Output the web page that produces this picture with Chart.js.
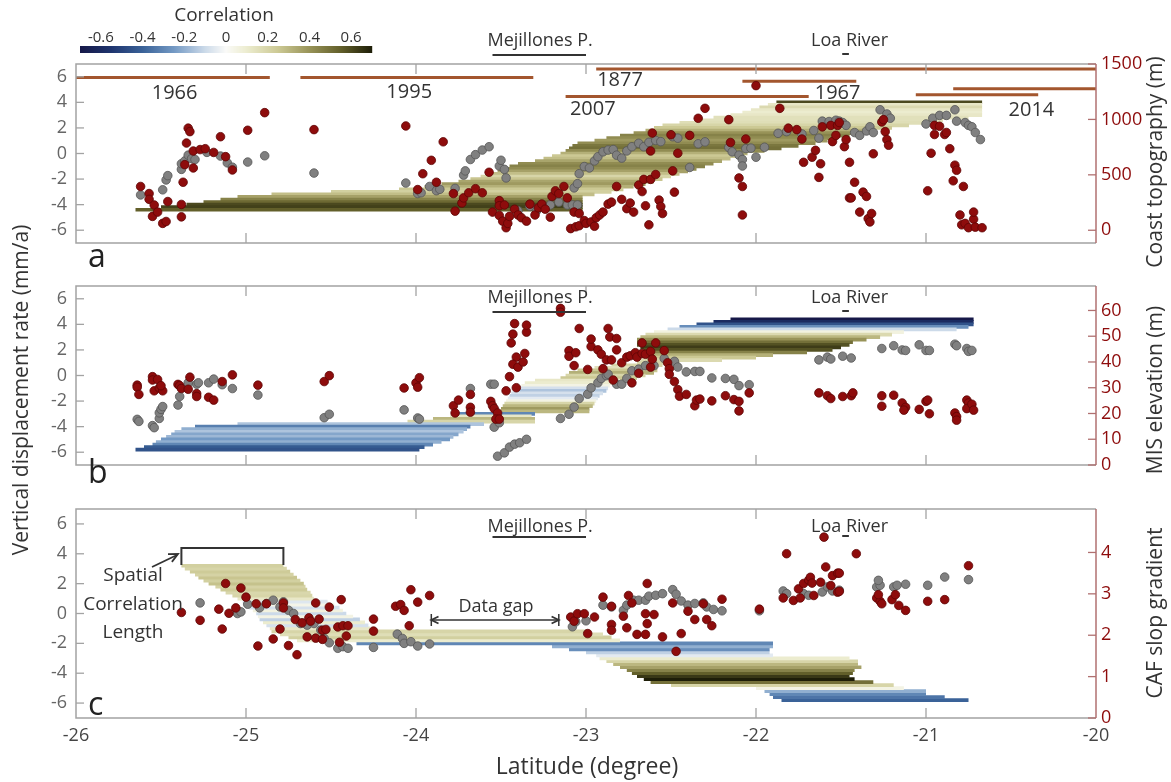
<!DOCTYPE html>
<html>
<head>
<meta charset="utf-8">
<script src="https://cdn.jsdelivr.net/npm/chart.js@4.4.1/dist/chart.umd.min.js"></script>
<style>
  body { margin: 0; background: #fff; }
  #wrap { position: relative; width: 1171px; height: 782px; }
  #wrap canvas { position: absolute; left: 0; top: 0; }
</style>
</head>
<body>
<div id="wrap">
  <canvas id="chartA" width="1171" height="782"></canvas>
  <canvas id="chartB" width="1171" height="782"></canvas>
  <canvas id="chartC" width="1171" height="782"></canvas>
</div>
<script>
// ---------- ticks ----------
const latTicks = [-26, -25, -24, -23, -22, -21, -20];
const leftTicks = [-6, -4, -2, 0, 2, 4, 6];
const topoTicks = [0, 500, 1000, 1500];
const misTicks = [0, 10, 20, 30, 40, 50, 60];
const cafTicks = [0, 1, 2, 3, 4];
const corrTicks = [-0.6, -0.4, -0.2, 0, 0.2, 0.4, 0.6];

// ---------- panel a : [lat, displacement] and [lat, coast topography m] ----------
const grayA = [[-25.62,-3.24],[-25.49,-2.84],[-25.47,-2.07],[-25.46,-1.73],[-25.38,-1.24],[-25.38,-0.8],[-25.36,-0.58],[-25.34,-0.13],[-25.32,-0.4],[-25.3,-0.47],[-25.23,0.09],[-25.15,-0.2],[-25.11,-0.73],[-25.08,-1.07],[-24.99,-0.67],[-24.89,-0.18],[-24.6,-1.53],[-24.06,-2.31],[-23.99,-3.13],[-23.97,-3.07],[-23.92,-2.58],[-23.88,-2.91],[-23.86,-2.8],[-23.77,-2.73],
  [-23.72,-1.69],[-23.71,-1.36],[-23.68,-0.47],[-23.65,-0.09],[-23.61,0.27],[-23.57,0.53],[-23.51,-0.98],[-23.5,-0.53],[-23.48,-1.24],[-23.47,-1.91],[-23.4,-4.47],[-23.33,-4.13],[-23.29,-4.47],[-23.21,-4.02],[-23.16,-3.8],[-23.11,-4.02],[-23.08,-4.02],[-23.05,-4.02],[-23.07,-2.69],[-23.05,-2.36],[-23.04,-1.58],[-23.01,-1.02],[-22.98,-1.13],[-22.95,-0.58],[-22.93,-0.25],[-22.9,0.13],[-22.87,0.27],[-22.84,0.31],[-22.82,-0.13],[-22.79,-0.36],[-22.76,0.2],[-22.73,0.53],[-22.69,0.8],[-22.66,0.53],[-22.63,0.87],[-22.59,1.02],[-22.56,0.93],[-22.49,1.31],[-22.46,1.2],[-22.39,-1.09],[-22.34,0.76],[-22.3,0.91],[-22.16,0.47],[-22.14,0.13],[-22.1,-0.13],[-22.08,-0.47],[-22.08,-0.98],[-22.06,0.38],[-22.03,0.42],[-22.0,-0.29],[-21.95,0.49],[-21.87,1.58],[-21.82,1.71],[-21.73,1.53],[-21.66,1.8],[-21.63,1.2],[-21.61,2.53],[-21.57,2.5],[-21.53,2.6],[-21.51,2.53],[-21.49,2.42],[-21.47,2.2],[-21.42,1.64],[-21.39,1.42],[-21.35,1.76],[-21.33,2.09],[-21.31,1.64],[-21.27,3.42],[-21.23,3.09],[-21.21,2.76],[-21.0,2.31],[-20.96,2.76],[-20.92,2.98],[-20.88,2.98],[-20.83,3.42],[-20.82,2.53],[-20.77,2.42],[-20.75,2.2],[-20.73,2.09],[-20.71,1.64],[-20.68,1.09]];

const redA = [[-25.62,395],[-25.57,331],[-25.57,279],[-25.54,228],[-25.55,125],[-25.52,164],[-25.49,62],[-25.47,79],[-25.46,259],[-25.38,121],[-25.38,233],[-25.37,433],[-25.36,592],[-25.35,787],[-25.34,921],[-25.33,890],[-25.31,715],[-25.31,562],[-25.27,728],[-25.24,736],[-25.19,702],[-25.15,844],[-25.12,664],[-25.08,544],[-24.99,902],[-24.89,1061],[-24.6,908],[-24.06,941],[-23.99,367],[-23.96,510],[-23.91,631],[-23.84,798],[-23.88,433],[-23.78,331],[-23.77,172],
  [-23.73,246],[-23.72,292],[-23.69,338],[-23.65,375],[-23.61,338],[-23.57,523],[-23.55,164],[-23.51,267],[-23.51,221],[-23.51,133],[-23.49,82],[-23.48,228],[-23.47,23],[-23.46,62],[-23.45,125],[-23.42,190],[-23.4,138],[-23.38,113],[-23.35,82],[-23.33,236],[-23.3,138],[-23.28,202],[-23.26,236],[-23.24,190],[-23.21,118],[-23.2,305],[-23.18,356],[-23.16,331],[-23.13,395],[-23.11,292],[-23.09,15],[-23.07,164],[-23.06,31],[-23.04,151],[-23.04,41],[-23.01,87],[-23.0,62],[-22.97,75],[-22.95,36],[-22.94,113],[-22.92,138],[-22.9,164],[-22.87,236],[-22.85,254],[-22.82,395],[-22.79,279],[-22.76,195],[-22.74,246],[-22.72,164],[-22.69,408],[-22.66,459],[-22.67,349],[-22.65,221],[-22.63,49],[-22.62,459],[-22.59,503],[-22.57,272],[-22.56,215],[-22.55,151],[-22.48,344],[-22.49,536],[-22.46,695],[-22.62,715],[-22.61,877],[-22.5,862],[-22.39,856],[-22.34,1010],[-22.3,1100],[-22.16,998],[-22.15,792],[-22.06,823],[-22.1,472],[-22.08,395],[-22.08,138],[-22.0,1305],[-21.86,1100],[-21.81,921],[-21.76,908],[-21.73,823],[-21.72,613],[-21.67,659],[-21.65,721],[-21.62,600],[-21.63,477],[-21.61,933],[-21.56,946],[-21.52,946],[-21.55,800],[-21.53,856],[-21.48,754],[-21.47,818],[-21.45,613],[-21.45,292],[-21.51,972],[-21.44,292],[-21.42,433],[-21.39,164],[-21.37,344],[-21.35,305],[-21.34,105],[-21.33,75],[-21.32,151],[-21.31,690],[-21.26,977],[-21.25,998],[-21.24,890],[-21.23,818],[-21.22,767],[-20.99,356],[-20.97,695],[-20.95,864],[-20.95,946],[-20.92,938],[-20.89,864],[-20.88,882],[-20.86,736],[-20.83,587],[-20.82,541],[-20.84,446],[-20.78,395],[-20.8,138],[-20.79,49],[-20.77,62],[-20.75,23],[-20.72,100],[-20.72,164],[-20.71,28],[-20.67,23]];

// correlation-length rows: [y, lat start, lat end, correlation]
const bandA = [[-4.4,-25.65,-23.02,0.55],[-4.2,-25.5,-23.02,0.62],[-4.0,-25.35,-23.02,0.6],[-3.8,-25.25,-23.02,0.52],[-3.6,-25.15,-23.02,0.45],[-3.4,-25.05,-23.02,0.36],[-3.2,-24.85,-22.95,0.28],[-3.0,-24.5,-22.85,0.22],[-2.8,-24.1,-22.78,0.25],[-2.6,-23.95,-22.72,0.32],[-2.4,-23.85,-22.65,0.38],[-2.2,-23.75,-22.6,0.35],[-2.0,-23.68,-22.55,0.26],[-1.8,-23.62,-22.5,0.2],[-1.6,-23.57,-22.45,0.28],[-1.4,-23.52,-22.4,0.36],[-1.2,-23.48,-22.35,0.42],[-1.0,-23.45,-22.3,0.45],[-0.8,-23.4,-22.25,0.42],[-0.6,-23.3,-22.2,0.35],[-0.4,-23.25,-22.15,0.28],[-0.2,-23.2,-22.1,0.25],[0.0,-23.15,-22.05,0.32],[0.2,-23.12,-21.95,0.42],[0.4,-23.1,-21.85,0.5],[0.6,-23.08,-21.75,0.48],[0.8,-23.05,-21.65,0.42],[1.0,-22.95,-21.58,0.38],[1.2,-22.88,-21.52,0.42],[1.4,-22.8,-21.45,0.45],[1.6,-22.72,-21.38,0.4],[1.8,-22.65,-21.3,0.32],[2.0,-22.6,-21.2,0.25],[2.2,-22.55,-21.1,0.2],[2.4,-22.45,-21.0,0.16],[2.6,-22.35,-20.9,0.15],[2.8,-22.25,-20.75,0.15],[3.0,-22.15,-20.67,0.12],[3.2,-22.08,-20.67,0.1],[3.4,-22.03,-20.67,0.12],[3.6,-21.98,-20.67,0.18],[3.8,-21.93,-20.67,0.12],[4.0,-21.88,-20.67,0.6]];

// rupture extents: [lat start, lat end, y]
const ruptures = [[-26,-24.86,5.95],[-24.68,-23.31,5.95],[-22.94,-20,6.6],[-22.08,-21.41,5.66],[-23.12,-21.69,4.45],[-20.84,-20,5.06],[-21.06,-20.34,4.59]];
const ruptureYears = ['1966', '1995', '1877', '1967', '2007', '2014'];

// ---------- panel b : [lat, displacement] and [lat, MIS elevation m] ----------
const grayB = [[-25.64,-3.43],[-25.63,-3.59],[-25.55,-3.92],[-25.54,-4.08],[-25.51,-3.36],[-25.51,-2.92],[-25.5,-2.65],[-25.49,-2.43],[-25.4,-2.31],[-25.39,-1.64],[-25.34,-0.57],[-25.29,-0.68],[-25.28,-0.57],[-25.22,-0.57],[-25.19,-0.28],[-25.14,-0.72],[-25.08,-1.02],[-24.93,-1.53],[-24.54,-3.3],[-24.51,-3.03],[-24.07,-2.69],[-23.99,-3.32],[-23.98,-3.41],
  [-23.68,-1.02],[-23.56,-0.68],[-23.54,-0.68],[-23.54,-4.04],[-23.51,-3.7],[-23.52,-6.31],[-23.48,-6.05],[-23.45,-5.6],[-23.42,-5.37],[-23.39,-5.26],[-23.35,-4.99],[-23.15,-3.36],[-23.1,-3.03],[-23.07,-2.47],[-23.04,-1.8],[-22.99,-1.46],[-22.97,-0.97],[-22.93,-0.57],[-22.91,-0.23],[-22.88,-0.01],[-22.87,0.1],[-22.82,-0.68],[-22.79,-0.68],[-22.76,-0.23],[-22.73,0.37],[-22.69,0.5],[-22.65,0.77],[-22.6,0.77],[-22.54,1.33],[-22.48,1.11],[-22.46,0.66],[-22.41,0.28],[-22.36,0.32],[-22.33,0.32],[-22.26,-0.19],[-22.18,-0.23],[-22.13,-0.3],[-22.1,-0.79],[-22.04,-0.72],[-21.63,1.22],[-21.58,1.44],[-21.56,1.29],[-21.49,1.51],[-21.44,1.37],[-21.26,2.11],[-21.19,2.33],[-21.14,2.0],[-21.12,1.96],[-21.04,2.4],[-21.0,1.96],[-20.98,1.96],[-20.83,2.45],[-20.82,2.33],[-20.76,2.11],[-20.75,1.89],[-20.73,1.96]];

const redB = [[-25.64,31],[-25.64,30.2],[-25.63,27.4],[-25.55,34.3],[-25.55,33],[-25.54,28.8],[-25.52,33.2],[-25.51,29.9],[-25.49,28.8],[-25.5,30.8],[-25.4,31.3],[-25.39,30.8],[-25.38,29.7],[-25.33,34.1],[-25.34,29.4],[-25.29,27.7],[-25.29,26.6],[-25.22,26.3],[-25.19,25.2],[-25.14,32.4],[-25.08,35],[-24.93,31],[-24.54,32.4],[-24.51,34.7],[-24.07,29.9],[-24.0,31.9],[-23.99,30.2],[-23.98,33.9],[-23.78,23],[-23.77,20.2],[-23.75,25.2],
  [-23.68,22.4],[-23.68,20.5],[-23.68,27.4],[-23.56,24.7],[-23.55,23],[-23.54,21.9],[-23.52,20.2],[-23.53,17.8],[-23.51,17.8],[-23.47,28.8],[-23.45,34.3],[-23.41,30],[-23.41,41.9],[-23.43,39.1],[-23.4,38],[-23.37,40],[-23.36,43.3],[-23.44,47.4],[-23.43,50.8],[-23.42,54.9],[-23.35,51.6],[-23.35,54.3],[-23.15,60.8],[-23.15,59.3],[-23.1,44.4],[-23.1,42.2],[-23.06,43.6],[-23.07,38.6],[-23.04,53],[-22.99,37.1],[-22.97,46],[-22.97,48.9],[-22.93,44.7],[-22.91,43],[-22.9,37.4],[-22.88,40.8],[-22.87,53],[-22.86,49.7],[-22.85,40.8],[-22.82,44.7],[-22.82,49.1],[-22.84,33],[-22.79,39.7],[-22.76,41.9],[-22.74,42.4],[-22.73,31.9],[-22.71,43.6],[-22.7,41.9],[-22.69,35.6],[-22.67,43.3],[-22.67,47.4],[-22.65,43],[-22.62,44.1],[-22.62,38],[-22.61,41.1],[-22.59,47.4],[-22.54,44.4],[-22.52,39.7],[-22.51,37.4],[-22.51,35.2],[-22.48,32.4],[-22.46,29.3],[-22.45,26.7],[-22.41,27.4],[-22.36,23],[-22.35,25.2],[-22.33,25.6],[-22.26,24.9],[-22.18,26.9],[-22.13,25.4],[-22.1,24.7],[-22.1,21],[-22.04,28],[-21.63,28],[-21.58,26.9],[-21.56,25.8],[-21.49,26.6],[-21.44,26.9],[-21.43,28],[-21.26,26.9],[-21.26,22.8],[-21.19,27.1],[-21.14,24.1],[-21.12,22.4],[-21.13,21.3],[-21.04,21.6],[-21.0,24.7],[-20.99,25.2],[-20.98,19.9],[-20.83,20.2],[-20.82,18.8],[-20.82,17.4],[-20.76,25.2],[-20.75,24.1],[-20.76,21.9],[-20.73,23.6],[-20.72,21.3]];

const bandB = [[-5.8,-25.65,-23.98,-0.45],[-5.6,-25.6,-23.95,-0.42],[-5.4,-25.55,-23.9,-0.3],[-5.2,-25.53,-23.85,-0.2],[-5.0,-25.5,-23.8,-0.25],[-4.8,-25.47,-23.78,-0.18],[-4.6,-25.44,-23.75,-0.22],[-4.4,-25.42,-23.72,-0.15],[-4.2,-25.38,-23.7,-0.2],[-4.0,-25.3,-23.68,-0.32],[-3.8,-25.05,-23.6,-0.15],[-3.6,-24.05,-23.3,0.2],[-3.4,-23.9,-23.3,0.3],[-3.2,-23.8,-23.32,0.12],[-3.0,-23.75,-23.3,-0.3],[-2.8,-23.52,-22.98,0.3],[-2.6,-23.5,-22.98,0.38],[-2.4,-23.49,-22.96,0.3],[-2.2,-23.48,-22.95,0.2],[-2.0,-23.47,-22.94,0.05],[-1.8,-23.46,-22.93,-0.05],[-1.6,-23.45,-22.92,-0.12],[-1.4,-23.44,-22.9,-0.08],[-1.2,-23.42,-22.88,-0.15],[-1.0,-23.4,-22.87,-0.08],[-0.8,-23.38,-22.86,0.05],[-0.6,-23.36,-22.85,0.1],[-0.4,-23.3,-22.8,0.12],[-0.2,-23.15,-22.7,0.25],[0.0,-23.12,-22.65,0.2],[0.2,-23.1,-22.6,0.32],[0.4,-23.05,-22.58,0.25],[0.6,-22.95,-22.58,0.15],[0.8,-22.85,-22.55,0.2],[1.0,-22.7,-22.45,0.2],[1.2,-22.68,-22.2,0.18],[1.4,-22.66,-22.0,0.25],[1.6,-22.62,-21.9,0.32],[1.8,-22.64,-21.7,0.45],[2.0,-22.66,-21.55,0.58],[2.2,-22.68,-21.5,0.63],[2.4,-22.7,-21.45,0.58],[2.6,-22.7,-21.43,0.5],[2.8,-22.7,-21.35,0.4],[3.0,-22.68,-21.27,0.3],[3.2,-22.65,-21.2,0.18],[3.4,-22.6,-21.13,0.06],[3.6,-22.52,-20.82,-0.1],[3.8,-22.45,-20.75,-0.28],[4.0,-22.35,-20.72,-0.45],[4.2,-22.25,-20.72,-0.6],[4.4,-22.15,-20.72,-0.7]];

// ---------- panel c : [lat, displacement] and [lat, CAF slope gradient] ----------
const grayC = [[-25.27,0.71],[-25.05,0.0],[-25.03,0.11],[-24.99,0.62],[-24.92,0.38],[-24.88,0.67],[-24.84,0.89],[-24.8,0.44],[-24.78,0.78],[-24.75,0.22],[-24.72,0.0],[-24.68,-0.67],[-24.64,-0.78],[-24.6,-0.67],[-24.56,-1.11],[-24.54,-1.67],[-24.51,-1.96],[-24.46,-2.33],[-24.43,-2.22],[-24.4,-2.33],[-24.25,-2.27],[-24.11,-1.38],[-24.08,-1.67],[-24.07,-2.0],[-24.03,-1.89],[-23.99,-2.18],[-23.92,-2.04],
  [-23.08,-0.89],[-23.06,-0.55],[-23.0,-0.49],[-22.9,0.56],[-22.85,0.44],[-22.78,0.22],[-22.76,0.56],[-22.72,0.89],[-22.69,0.89],[-22.65,0.89],[-22.63,1.16],[-22.59,1.22],[-22.55,1.33],[-22.49,1.6],[-22.47,1.29],[-22.44,0.84],[-22.4,0.56],[-22.36,0.67],[-22.31,0.71],[-22.29,0.44],[-22.25,0.27],[-22.2,0.18],[-21.98,0.18],[-21.84,1.51],[-21.82,1.33],[-21.72,1.33],[-21.69,1.22],[-21.61,1.44],[-21.58,1.78],[-21.55,1.51],[-21.51,1.56],[-21.29,1.78],[-21.27,1.89],[-21.28,2.22],[-21.19,1.78],[-21.17,1.89],[-21.12,1.96],[-20.99,1.89],[-20.89,2.44],[-20.75,2.27]];

const redC = [[-25.38,2.55],[-25.27,2.36],[-25.16,2.63],[-25.12,3.25],[-25.14,2.15],[-25.1,2.53],[-25.06,2.66],[-25.03,3.14],[-25.0,2.92],[-24.94,2.76],[-24.93,1.74],[-24.88,2.76],[-24.84,1.91],[-24.8,2.15],[-24.78,2.78],[-24.78,2.66],[-24.75,1.75],[-24.71,2.38],[-24.7,1.53],[-24.67,2.3],[-24.64,1.96],[-24.63,2.42],[-24.62,2.34],[-24.59,2.78],[-24.59,1.93],[-24.57,2.39],[-24.55,2.12],[-24.53,2.14],[-24.55,1.9],[-24.51,2.68],[-24.45,1.83],[-24.46,2.2],[-24.44,2.86],[-24.43,2.23],[-24.4,2.23],[-24.41,1.98],[-24.25,2.39],[-24.25,2.1],[-24.12,2.7],[-24.09,2.74],[-24.07,2.6],[-24.03,3.1],[-23.99,2.8],[-24.04,2.23],[-23.92,2.96],
  [-23.09,2.44],[-23.07,2.34],[-23.05,2.52],[-23.01,2.52],[-22.99,2.04],[-22.95,2.44],[-22.9,2.92],[-22.85,2.26],[-22.85,2.7],[-22.85,2.12],[-22.78,2.46],[-22.76,2.18],[-22.75,2.96],[-22.73,2.78],[-22.7,2.02],[-22.65,2.52],[-22.65,2.02],[-22.64,3.25],[-22.64,2.28],[-22.6,2.5],[-22.55,1.96],[-22.49,2.78],[-22.47,1.61],[-22.44,2.04],[-22.4,2.58],[-22.36,2.38],[-22.31,2.76],[-22.29,2.38],[-22.26,2.23],[-22.2,2.87],[-21.98,2.63],[-21.82,3.97],[-21.84,2.9],[-21.78,2.84],[-21.75,3.12],[-21.74,2.9],[-21.72,3.25],[-21.69,3.33],[-21.68,3.4],[-21.67,3.26],[-21.66,2.96],[-21.62,3.28],[-21.6,4.37],[-21.59,3.65],[-21.56,3.2],[-21.55,3.44],[-21.52,3.5],[-21.52,3.04],[-21.51,3.5],[-21.51,3.06],[-21.41,3.97],[-21.29,2.9],[-21.27,2.82],[-21.26,2.76],[-21.28,2.98],[-21.2,2.86],[-21.18,2.98],[-21.16,2.72],[-21.12,2.6],[-20.99,2.82],[-20.89,2.86],[-20.75,3.68]];

const bandC = [[3.2,-25.38,-24.78,0.22],[3.0,-25.36,-24.76,0.2],[2.8,-25.33,-24.74,0.24],[2.6,-25.3,-24.72,0.21],[2.4,-25.28,-24.7,0.26],[2.2,-25.25,-24.68,0.22],[2.0,-25.22,-24.66,0.27],[1.8,-25.18,-24.65,0.21],[1.6,-25.15,-24.64,0.24],[1.4,-25.12,-24.62,0.19],[1.2,-25.08,-24.61,0.2],[1.0,-25.05,-24.6,0.12],[0.8,-25.02,-24.52,-0.06],[0.6,-25.0,-24.48,0.04],[0.4,-24.98,-24.45,-0.08],[0.2,-24.96,-24.43,0.06],[0.0,-24.94,-24.41,-0.1],[-0.2,-24.93,-24.37,0.05],[-0.4,-24.92,-24.33,-0.12],[-0.6,-24.9,-24.3,0.1],[-0.8,-24.88,-24.28,-0.08],[-1.0,-24.86,-24.27,0.12],[-1.2,-24.85,-23.0,0.2],[-1.4,-24.8,-22.9,0.16],[-1.6,-24.75,-22.85,0.22],[-1.8,-24.7,-22.8,0.1],[-2.0,-24.35,-21.9,-0.3],[-2.2,-23.2,-21.9,-0.2],[-2.4,-23.1,-21.92,-0.28],[-2.6,-23.0,-21.92,-0.12],[-2.8,-22.94,-21.9,-0.05],[-3.0,-22.92,-21.45,0.1],[-3.2,-22.88,-21.4,0.2],[-3.4,-22.84,-21.4,0.3],[-3.6,-22.8,-21.38,0.36],[-3.8,-22.76,-21.42,0.45],[-4.0,-22.73,-21.43,0.55],[-4.2,-22.7,-21.45,0.64],[-4.4,-22.66,-21.42,0.7],[-4.6,-22.62,-21.31,0.5],[-4.8,-22.5,-21.19,0.2],[-5.0,-22.0,-21.13,0.05],[-5.2,-21.95,-21.0,-0.2],[-5.4,-21.92,-21.0,-0.3],[-5.6,-21.9,-20.89,-0.35],[-5.8,-21.85,-20.75,-0.4]];

// ---------- styling helpers ----------
const FONT = '"Open Sans", "DejaVu Sans", sans-serif';
const RED = '#8e0c0c';
const GRAY = '#808080';
const BROWN = '#a3562e';

const cmap = [
  [-0.7, [22, 24, 72]], [-0.55, [30, 52, 110]], [-0.4, [58, 98, 152]], [-0.25, [115, 153, 196]],
  [-0.1, [204, 218, 233]], [0, [250, 250, 248]], [0.1, [236, 236, 207]], [0.25, [204, 201, 148]],
  [0.4, [152, 147, 88]], [0.55, [98, 95, 42]], [0.7, [30, 30, 8]]
];
function corrColor(c) {
  c = Math.max(-0.7, Math.min(0.7, c));
  for (let i = 1; i < cmap.length; i++) {
    if (c <= cmap[i][0]) {
      const [c0, a] = cmap[i - 1], [c1, b] = cmap[i];
      const t = (c - c0) / (c1 - c0);
      const m = a.map((v, k) => Math.round(v + (b[k] - v) * t));
      return 'rgb(' + m.join(',') + ')';
    }
  }
  return 'rgb(30,30,8)';
}

function bandSets(rows) {
  return rows.map(r => ({
    type: 'line',
    data: [{ x: r[1], y: r[0] }, { x: r[2], y: r[0] }],
    borderColor: corrColor(r[3]),
    borderWidth: 3.7,
    borderCapStyle: 'butt',
    pointRadius: 0,
    yAxisID: 'y',
    order: 5
  }));
}
function dots(pts, fill, edge, axis, order) {
  return {
    type: 'scatter',
    data: pts.map(p => ({ x: p[0], y: p[1] })),
    backgroundColor: fill,
    borderColor: edge,
    borderWidth: 0.8,
    pointRadius: 4.3,
    yAxisID: axis,
    order: order
  };
}

function txt(ctx, s, x, y, size, color, align, rot) {
  ctx.save();
  ctx.font = size + 'px ' + FONT;
  ctx.fillStyle = color || '#333';
  ctx.textAlign = align || 'center';
  ctx.textBaseline = 'middle';
  ctx.translate(x, y);
  if (rot) ctx.rotate(rot);
  ctx.fillText(s, 0, 0);
  ctx.restore();
}
function seg(ctx, pts, color, w) {
  ctx.save();
  ctx.strokeStyle = color;
  ctx.lineWidth = w;
  ctx.beginPath();
  pts.forEach((p, i) => i ? ctx.lineTo(p[0], p[1]) : ctx.moveTo(p[0], p[1]));
  ctx.stroke();
  ctx.restore();
}

// box with inward ticks like the original figure
function drawFrame(chart, rightTicks) {
  const { ctx, chartArea: a, scales } = chart;
  seg(ctx, [[a.right, a.top], [a.left, a.top], [a.left, a.bottom], [a.right, a.bottom]], '#a3a3a3', 1.5);
  seg(ctx, [[a.right, a.top], [a.right, a.bottom]], '#b07070', 1.5);
  latTicks.forEach(v => {
    const px = scales.x.getPixelForValue(v);
    if (px <= a.left + 1 || px >= a.right - 1) return;
    seg(ctx, [[px, a.bottom], [px, a.bottom - 10]], '#a3a3a3', 1.3);
    seg(ctx, [[px, a.top], [px, a.top + 10]], '#a3a3a3', 1.3);
  });
  leftTicks.forEach(v => {
    const py = scales.y.getPixelForValue(v);
    seg(ctx, [[a.left, py], [a.left + 8, py]], '#a3a3a3', 1.3);
  });
  rightTicks.forEach(v => {
    const py = scales.y2.getPixelForValue(v);
    seg(ctx, [[a.right - 8, py], [a.right, py]], '#b07070', 1.3);
  });
}

function placeNames(chart, yText, yLine) {
  const { ctx, scales } = chart;
  const x = scales.x;
  txt(ctx, 'Mejillones P.', x.getPixelForValue(-23.27), yText, 18, '#333');
  seg(ctx, [[x.getPixelForValue(-23.55), yLine], [x.getPixelForValue(-23.0), yLine]], '#333', 2);
  ctx.save();
  ctx.font = '18px ' + FONT;
  const wAll = ctx.measureText('Loa River').width;
  const wLoa = ctx.measureText('Loa').width;
  const wSp = ctx.measureText('Loa ').width;
  ctx.restore();
  const cx = x.getPixelForValue(-21.45);
  const x0 = cx - wAll / 2;
  txt(ctx, 'Loa River', cx, yText, 18, '#333');
  seg(ctx, [[x0 + wLoa + 1, yLine - 1], [x0 + wSp + 3, yLine - 1]], '#333', 2);
}

function arrowHead(ctx, tip, from, size) {
  const ang = Math.atan2(tip[1] - from[1], tip[0] - from[0]);
  seg(ctx, [
    [tip[0] - size * Math.cos(ang - 0.45), tip[1] - size * Math.sin(ang - 0.45)],
    tip,
    [tip[0] - size * Math.cos(ang + 0.45), tip[1] - size * Math.sin(ang + 0.45)]
  ], '#333', 1.8);
}

function scalesFor(rMin, rMax, rTicks, showX) {
  const tickFont = { family: FONT, size: 18 };
  return {
    x: {
      type: 'linear', min: -26, max: -20, display: showX,
      afterBuildTicks: s => { s.ticks = latTicks.map(v => ({ value: v })); },
      afterFit: s => { s.height = 30; },
      grid: { display: false, drawTicks: false }, border: { display: false },
      ticks: { font: tickFont, color: '#444', padding: 7, maxRotation: 0, autoSkip: false, callback: v => String(v) }
    },
    y: {
      type: 'linear', position: 'left', min: -7, max: 7,
      afterBuildTicks: s => { s.ticks = leftTicks.map(v => ({ value: v })); },
      afterFit: s => { s.width = 76; },
      grid: { display: false, drawTicks: false }, border: { display: false },
      ticks: { font: tickFont, color: '#666', padding: 9, autoSkip: false, callback: v => String(v) }
    },
    y2: {
      type: 'linear', position: 'right', min: rMin, max: rMax,
      afterBuildTicks: s => { s.ticks = rTicks.map(v => ({ value: v })); },
      afterFit: s => { s.width = 75; },
      grid: { display: false, drawTicks: false }, border: { display: false },
      ticks: { font: tickFont, color: RED, padding: 5, autoSkip: false, callback: v => String(v) }
    }
  };
}

function baseOptions(padTop, padBottom, rMin, rMax, rTicks, showX) {
  return {
    responsive: false,
    animation: false,
    events: [],
    layout: { padding: { top: padTop, bottom: padBottom, left: 0, right: 0 } },
    plugins: { legend: { display: false }, tooltip: { enabled: false } },
    scales: scalesFor(rMin, rMax, rTicks, showX)
  };
}

// ---------- panel a ----------
new Chart(document.getElementById('chartA'), {
  type: 'scatter',
  data: {
    datasets: [
      dots(redA, RED, '#5e0505', 'y2', 0),
      dots(grayA, GRAY, '#555', 'y', 1),
      ...ruptures.map(r => ({
        type: 'line', data: [{ x: r[0], y: r[2] }, { x: r[1], y: r[2] }],
        borderColor: BROWN, borderWidth: 3, pointRadius: 0, yAxisID: 'y', order: 2
      })),
      ...bandSets(bandA)
    ]
  },
  options: baseOptions(64, 509, -115, 1500, topoTicks, false),
  plugins: [{
    id: 'decorA',
    afterDraw(chart) {
      const { ctx, scales } = chart;
      drawFrame(chart, topoTicks);
      // colour bar
      const cbL = 80, cbR = 372, cbW = cbR - cbL;
      for (let i = 0; i < cbW; i++) {
        ctx.fillStyle = corrColor(-0.7 + 1.4 * (i + 0.5) / cbW);
        ctx.fillRect(cbL + i, 46, 1.2, 7);
      }
      txt(ctx, 'Correlation', 224, 16, 19, '#333');
      corrTicks.forEach(v => txt(ctx, String(v), cbL + (v + 0.7) / 1.4 * cbW, 38, 15, '#333'));
      placeNames(chart, 41, 55);
      // year labels of rupture lines
      const xs = scales.x, ys = scales.y;
      const yearPos = [[-25.42, 4.73], [-24.04, 4.8], [-22.8, 5.73], [-21.52, 4.67], [-22.96, 3.47], [-20.38, 3.4]];
      ruptureYears.forEach((s, i) => txt(ctx, s, xs.getPixelForValue(yearPos[i][0]), ys.getPixelForValue(yearPos[i][1]), 20, '#333'));
      txt(ctx, 'a', 88, 258, 32, '#222', 'left');
      txt(ctx, 'Coast topography (m)', 1156, 162, 21, '#333', 'center', -Math.PI / 2);
      txt(ctx, 'Vertical displacement rate (mm/a)', 22, 390, 21, '#333', 'center', -Math.PI / 2);
    }
  }]
});

// ---------- panel b ----------
new Chart(document.getElementById('chartB'), {
  type: 'scatter',
  data: {
    datasets: [
      dots(redB, RED, '#5e0505', 'y2', 0),
      dots(grayB, GRAY, '#555', 'y', 1),
      ...bandSets(bandB)
    ]
  },
  options: baseOptions(286, 287, 0, 69.5, misTicks, false),
  plugins: [{
    id: 'decorB',
    afterDraw(chart) {
      drawFrame(chart, misTicks);
      placeNames(chart, 298, 312);
      txt(chart.ctx, 'b', 88, 474, 32, '#222', 'left');
      txt(chart.ctx, 'MIS elevation (m)', 1156, 390, 21, '#333', 'center', -Math.PI / 2);
    }
  }]
});

// ---------- panel c ----------
new Chart(document.getElementById('chartC'), {
  type: 'scatter',
  data: {
    datasets: [
      dots(redC, RED, '#5e0505', 'y2', 0),
      dots(grayC, GRAY, '#555', 'y', 1),
      ...bandSets(bandC)
    ]
  },
  options: baseOptions(509, 34, 0, 5.05, cafTicks, true),
  plugins: [{
    id: 'decorC',
    afterDraw(chart) {
      const { ctx, scales } = chart;
      drawFrame(chart, cafTicks);
      placeNames(chart, 527, 537);
      txt(ctx, 'c', 88, 706, 32, '#222', 'left');
      txt(ctx, 'CAF slop gradient', 1156, 613, 21, '#333', 'center', -Math.PI / 2);
      txt(ctx, 'Latitude (degree)', 587, 767, 23, '#333');
      // spatial correlation length bracket
      const bx0 = scales.x.getPixelForValue(-25.38), bx1 = scales.x.getPixelForValue(-24.78);
      seg(ctx, [[bx0, 565], [bx0, 548], [bx1, 548], [bx1, 565]], '#333', 2);
      seg(ctx, [[152, 567], [177, 555]], '#333', 1.8);
      arrowHead(ctx, [178, 554], [152, 567], 10);
      txt(ctx, 'Spatial', 133, 576, 19, '#333');
      txt(ctx, 'Correlation', 133, 605, 19, '#333');
      txt(ctx, 'Length', 133, 633, 19, '#333');
      // data gap arrow
      const gx0 = scales.x.getPixelForValue(-23.91), gx1 = scales.x.getPixelForValue(-23.16);
      seg(ctx, [[gx0, 620], [gx1, 620]], '#333', 1.5);
      arrowHead(ctx, [gx0, 620], [gx1, 620], 8);
      arrowHead(ctx, [gx1, 620], [gx0, 620], 8);
      seg(ctx, [[gx0, 614], [gx0, 626]], '#333', 1.5);
      seg(ctx, [[gx1, 614], [gx1, 626]], '#333', 1.5);
      txt(ctx, 'Data gap', 496, 607, 18, '#333');
    }
  }]
});
</script>
</body>
</html>
